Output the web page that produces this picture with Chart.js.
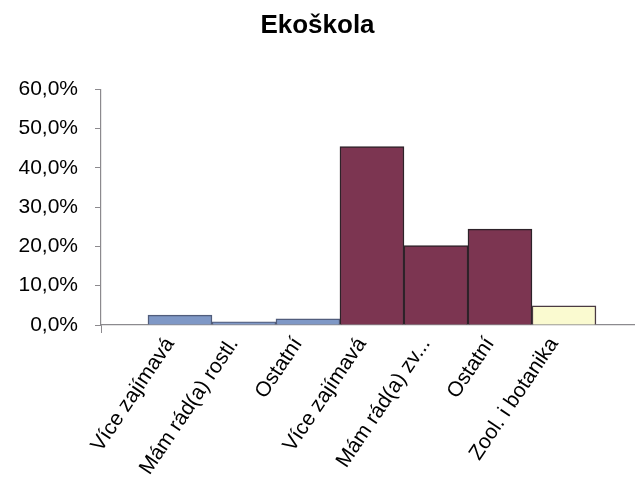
<!DOCTYPE html>
<html>
<head>
<meta charset="utf-8">
<script src="https://cdn.jsdelivr.net/npm/chart.js@4"></script>
<style>
  html, body { margin: 0; padding: 0; background: #ffffff; }
  #wrap { width: 635px; height: 489px; }
</style>
</head>
<body>
<div id="wrap"><canvas id="c" width="635" height="489"></canvas></div>
<script>
// Category labels along the x axis
const categories = [
  'Více zajímavá',
  'Mám rád(a) rostl.',
  'Ostatní',
  'Více zajímavá',
  'Mám rád(a) zv...',
  'Ostatní',
  'Zool. i botanika'
];
// Share of answers, in percent
const values = [2.5, 0.8, 1.6, 45.4, 20.2, 24.4, 4.9];
// Fill and outline for each bar
const fillColors = ['#7f98c6', '#7f98c6', '#7f98c6', '#7c3551', '#7c3551', '#7c3551', '#fafad0'];
const borderColors = ['#515d7c', '#515d7c', '#515d7c', '#2e2229', '#2e2229', '#2e2229', '#4a3a42'];
// Value axis ticks
const yTicks = [0, 10, 20, 30, 40, 50, 60];

const xMin = -0.234;
const xMax = 8.11;

const points = values.map((v, i) => ({ x: i + 1, y: v }));

new Chart(document.getElementById('c'), {
  type: 'bar',
  data: {
    datasets: [{
      data: points,
      backgroundColor: fillColors,
      borderColor: borderColors,
      borderWidth: 1.5,
      borderSkipped: 'bottom',
      barPercentage: 1,
      categoryPercentage: 1
    }]
  },
  options: {
    responsive: false,
    animation: false,
    layout: { padding: { left: 0, right: 0, top: 0, bottom: 0 } },
    plugins: {
      legend: { display: false },
      tooltip: { enabled: false },
      title: {
        display: true,
        text: 'Ekoškola',
        color: '#000000',
        font: { family: 'Liberation Sans, Arial, sans-serif', size: 26, weight: 'bold' },
        padding: { top: 10, bottom: 48 }
      }
    },
    scales: {
      x: {
        type: 'linear',
        offset: false,
        min: xMin,
        max: xMax,
        afterBuildTicks: (scale) => {
          scale.ticks = [{ value: xMin }].concat(categories.map((_, i) => ({ value: i + 1 })));
        },
        afterFit: (scale) => { scale.height = 164; },
        border: { display: true, color: '#8c8a8e', width: 1.2 },
        grid: {
          offset: false,
          drawOnChartArea: false,
          drawTicks: true,
          tickLength: 8,
          color: (ctx) => (ctx.index === 0 ? '#8c8a8e' : 'rgba(0,0,0,0)')
        },
        ticks: {
          autoSkip: false,
          minRotation: 56,
          maxRotation: 56,
          padding: 0,
          labelOffset: -10,
          color: '#000000',
          font: { family: 'Liberation Sans, Arial, sans-serif', size: 21 },
          callback: (v, i) => (i === 0 ? '' : categories[i - 1])
        }
      },
      y: {
        min: 0,
        max: 60,
        afterBuildTicks: (scale) => {
          scale.ticks = yTicks.map(v => ({ value: v }));
        },
        afterFit: (scale) => { scale.width = 101; },
        border: { display: true, color: '#8c8a8e', width: 1.2 },
        grid: {
          drawOnChartArea: false,
          drawTicks: true,
          tickLength: 6,
          color: '#8c8a8e'
        },
        ticks: {
          padding: 17,
          color: '#000000',
          font: { family: 'Liberation Sans, Arial, sans-serif', size: 21 },
          callback: (v) => v.toFixed(1).replace('.', ',') + '%'
        }
      }
    }
  }
});
</script>
</body>
</html>
